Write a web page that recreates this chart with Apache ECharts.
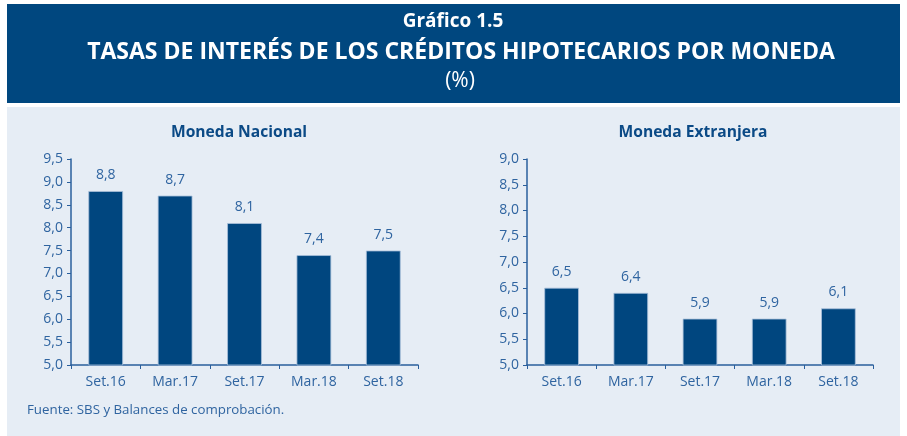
<!DOCTYPE html>
<html>
<head>
<meta charset="utf-8">
<script src="https://cdn.jsdelivr.net/npm/echarts@6/dist/echarts.min.js"></script>
<style>
  html, body { margin: 0; padding: 0; background: #fff; }
  #main { width: 907px; height: 436px; }
</style>
</head>
<body>
<div id="main"></div>
<script>
// datos
var categorias = ['Set.16', 'Mar.17', 'Set.17', 'Mar.18', 'Set.18'];
var monedaNacional = [8.8, 8.7, 8.1, 7.4, 7.5];
var monedaExtranjera = [6.5, 6.4, 5.9, 5.9, 6.1];

var azul = '#00467f';
var azulTexto = '#2f64a0';
var fuente = '"Open Sans", "Noto Sans", sans-serif';

function coma(v) {
    return v.toFixed(1).replace('.', ',');
}

var myChart = echarts.init(document.getElementById('main'));

function ejeX(idx) {
    return {
        type: 'category',
        gridIndex: idx,
        data: categorias,
        axisLine: { lineStyle: { color: '#2a5f9c', width: 1.5 } },
        axisTick: { show: true, length: 4, lineStyle: { color: '#2a5f9c' } },
        axisLabel: { color: azulTexto, fontSize: 14, fontFamily: fuente, margin: 10 }
    };
}

function ejeY(idx, max) {
    return {
        type: 'value',
        gridIndex: idx,
        min: 5,
        max: max,
        interval: 0.5,
        splitLine: { show: false },
        axisLine: { show: true, lineStyle: { color: '#2a5f9c', width: 1.5 } },
        axisTick: { show: true, length: 4, lineStyle: { color: '#2a5f9c' } },
        axisLabel: {
            color: azulTexto, fontSize: 14, fontFamily: fuente, margin: 8,
            formatter: function (v) { return coma(v); }
        }
    };
}

function serie(idx, datos) {
    return {
        type: 'bar',
        xAxisIndex: idx,
        yAxisIndex: idx,
        data: datos,
        barWidth: '50%',
        itemStyle: { color: azul, borderColor: '#a9c0da', borderWidth: 0.8 },
        label: {
            show: true,
            position: 'top',
            distance: 9,
            color: azulTexto,
            fontSize: 14,
            fontFamily: fuente,
            formatter: function (p) { return coma(p.value); }
        }
    };
}

var option = {
    animation: false,
    backgroundColor: '#ffffff',
    graphic: [
        { type: 'rect', shape: { x: 7, y: 4, width: 893, height: 99 }, style: { fill: '#00477f' }, z: -10 },
        { type: 'rect', shape: { x: 7, y: 107, width: 893, height: 329 }, style: { fill: '#e6edf5' }, z: -10 },
        { type: 'text', x: 453, y: 22, style: { text: 'Gráfico 1.5', fill: '#fff', font: 'bold 19px ' + fuente, textAlign: 'center', textVerticalAlign: 'middle' } },
        { type: 'text', x: 461, y: 52, style: { text: 'TASAS DE INTERÉS DE LOS CRÉDITOS HIPOTECARIOS POR MONEDA', fill: '#fff', font: 'bold 23px ' + fuente, textAlign: 'center', textVerticalAlign: 'middle' } },
        { type: 'text', x: 460, y: 81, style: { text: '(%)', fill: '#fff', font: '21px ' + fuente, textAlign: 'center', textVerticalAlign: 'middle' } },
        { type: 'text', x: 27, y: 410, style: { text: 'Fuente: SBS y Balances de comprobación.', fill: '#2f64a0', font: '13.3px ' + fuente, textVerticalAlign: 'middle' } }
    ],
    title: [
        { text: 'Moneda Nacional', left: 234, top: 120, textAlign: 'center', textStyle: { color: '#0b4a86', fontSize: 15.6, fontWeight: 'bold', fontFamily: fuente } },
        { text: 'Moneda Extranjera', left: 688, top: 120, textAlign: 'center', textStyle: { color: '#0b4a86', fontSize: 15.6, fontWeight: 'bold', fontFamily: fuente } }
    ],
    grid: [
        { left: 71, top: 159, width: 347, height: 206 },
        { left: 527, top: 159, width: 346, height: 206 }
    ],
    xAxis: [ejeX(0), ejeX(1)],
    yAxis: [ejeY(0, 9.5), ejeY(1, 9)],
    series: [serie(0, monedaNacional), serie(1, monedaExtranjera)]
};

myChart.setOption(option);
</script>
</body>
</html>
